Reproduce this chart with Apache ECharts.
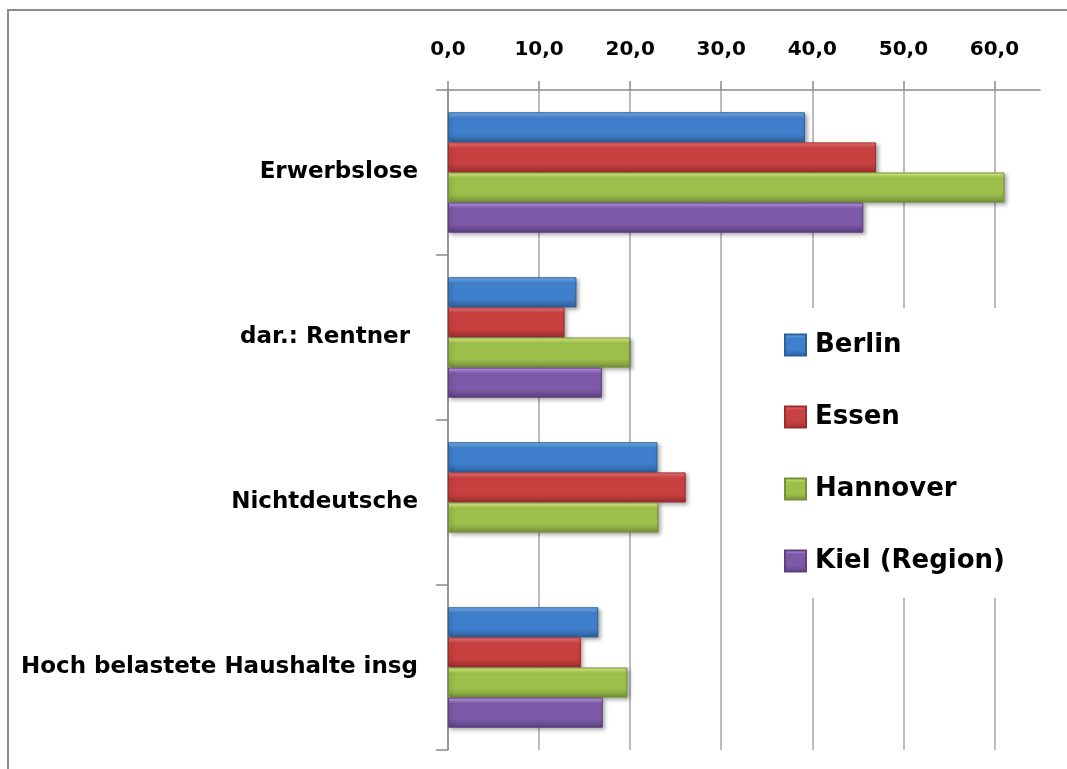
<!DOCTYPE html>
<html>
<head>
<meta charset="utf-8">
<script src="https://cdn.jsdelivr.net/npm/echarts@6/dist/echarts.min.js"></script>
<style>
  html, body { margin: 0; padding: 0; background: #fff; }
  #chart { width: 1067px; height: 769px; }
</style>
</head>
<body>
<div id="chart"></div>
<script>
// Kategorien (von oben nach unten)
const categories = ['Erwerbslose', 'dar.: Rentner ', 'Nichtdeutsche', 'Hoch belastete Haushalte insg'];

// Anteile je Stadt in Prozent
const berlin   = [39.2, 14.1, 23.0, 16.5];
const essen    = [47.0, 12.8, 26.1, 14.6];
const hannover = [61.1, 20.0, 23.1, 19.7];
const kiel     = [45.6, 16.9, null, 17.0];

const seriesNames = ['Berlin', 'Essen', 'Hannover', 'Kiel (Region)'];
const seriesData = [berlin, essen, hannover, kiel];

// Achsenwerte
const axisMin = 0;
const axisMax = 65;
const axisStep = 10;

const FONT = '"DejaVu Sans", sans-serif';

// Farbverläufe für den Glanzeffekt der Balken: [hell, mittel, dunkel]
const palettes = [
  ['#7ab8f5', '#3f7fcb', '#2d5f9c'],
  ['#f57a7a', '#c94040', '#9a2e2e'],
  ['#e6fa8a', '#9dbf4b', '#75903a'],
  ['#c9a2f0', '#7c5aa8', '#5c4080']
];

function barGradient(p) {
  return new echarts.graphic.LinearGradient(0, 0, 0, 1, [
    { offset: 0, color: p[0] },
    { offset: 0.2, color: p[1] },
    { offset: 0.72, color: p[1] },
    { offset: 1, color: p[2] }
  ]);
}

const chart = echarts.init(document.getElementById('chart'), null, { renderer: 'canvas' });

const series = seriesNames.map((name, i) => ({
  name: name,
  type: 'bar',
  data: seriesData[i],
  barGap: '0%',
  barCategoryGap: '27%',
  itemStyle: {
    color: barGradient(palettes[i]),
    borderColor: palettes[i][2],
    borderWidth: 1,
    shadowColor: 'rgba(0,0,0,0.35)',
    shadowBlur: 4,
    shadowOffsetX: 2,
    shadowOffsetY: 2
  }
}));

chart.setOption({
  animation: false,
  backgroundColor: '#ffffff',
  graphic: [{
    type: 'rect',
    shape: { x: 8, y: 10, width: 1200, height: 900 },
    style: { fill: 'none', stroke: '#8c8c8c', lineWidth: 2 },
    z: -1
  }],
  grid: { left: 448, right: 27, top: 90, bottom: 19, containLabel: false },
  legend: {
    orient: 'vertical',
    left: 764,
    top: 308,
    padding: [22, 12, 22, 20],
    backgroundColor: '#ffffff',
    itemGap: 42,
    itemWidth: 21,
    itemHeight: 21,
    icon: 'rect',
    data: seriesNames,
    textStyle: { fontFamily: FONT, fontWeight: 'bold', fontSize: 26, lineHeight: 30, color: '#000', padding: [0, 0, 0, 4] },
    z: 10
  },
  xAxis: {
    type: 'value',
    position: 'top',
    min: axisMin,
    max: axisMax,
    interval: axisStep,
    axisLine: { show: true, lineStyle: { color: '#8a8a8a', width: 1.5 } },
    axisTick: { show: true, length: 9, lineStyle: { color: '#8a8a8a', width: 1.5 } },
    axisLabel: {
      showMaxLabel: false,
      margin: 30,
      fontFamily: FONT,
      fontWeight: 'bold',
      fontSize: 20,
      color: '#000',
      formatter: v => (v % axisStep === 0 ? v.toFixed(1).replace('.', ',') : '')
    },
    splitLine: { show: true, showMaxLine: false, lineStyle: { color: '#a6a6a6', width: 1.5 } }
  },
  yAxis: {
    type: 'category',
    inverse: true,
    data: categories,
    axisLine: { show: true, lineStyle: { color: '#8a8a8a', width: 1.5 } },
    axisTick: { show: true, length: 12, alignWithLabel: false, lineStyle: { color: '#8a8a8a', width: 1.5 } },
    axisLabel: {
      margin: 30,
      fontFamily: FONT,
      fontWeight: 'bold',
      fontSize: 23,
      color: '#000'
    }
  },
  series: series
});
</script>
</body>
</html>
